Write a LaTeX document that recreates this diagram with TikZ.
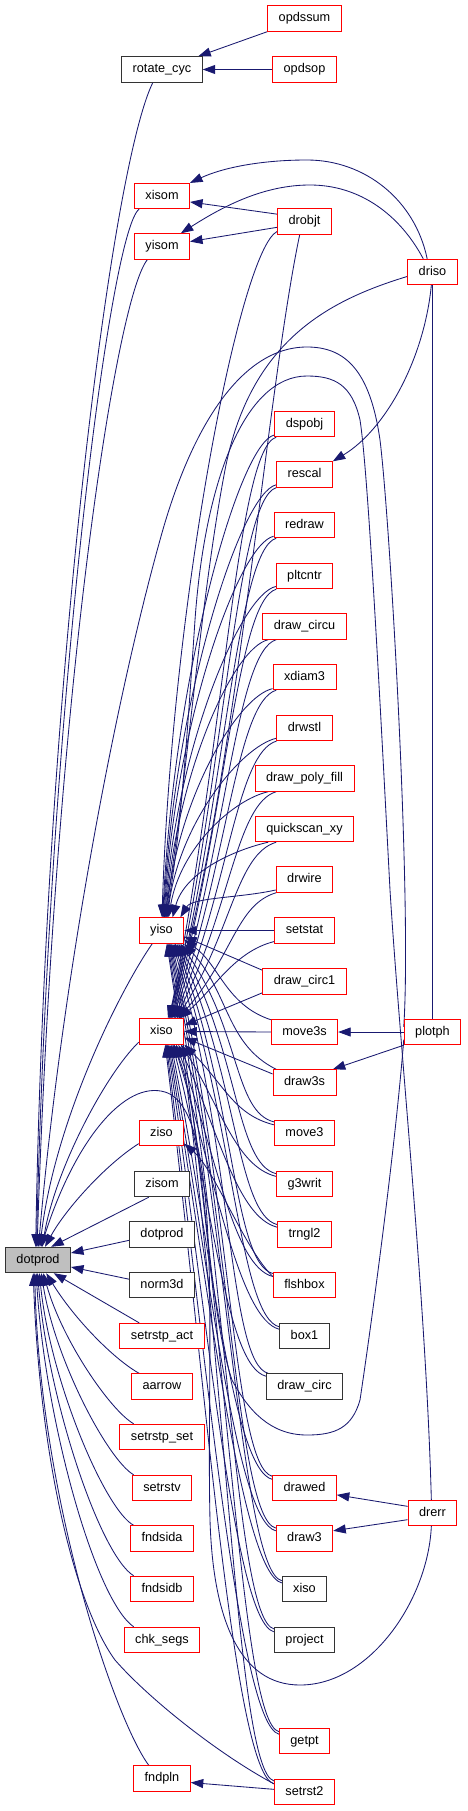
\documentclass[tikz,border=0pt]{standalone}
\usepackage{fontspec}
\setmainfont{Liberation Sans}
\usetikzlibrary{arrows.meta}
\definecolor{edgec}{HTML}{191970}
\definecolor{nodered}{HTML}{FF0000}
\definecolor{mainfill}{HTML}{BFBFBF}
\pgfdeclarelayer{bg}
\pgfsetlayers{bg,main}
\begin{document}
\begin{tikzpicture}[x=1pt,y=-1pt,
  box/.style={line width=0.9pt, fill=white, minimum height=25.5pt, inner xsep=11pt, inner ysep=0pt, font=\fontsize{12.7}{15}\selectfont, text height=9.3pt, text depth=2.7pt},
  rbox/.style={box, draw=nodered},
  kbox/.style={box, draw=black!80},
  mbox/.style={box, draw=black!80, fill=mainfill},
  e/.style={draw=edgec, line width=0.85pt, -{Triangle[length=12.5pt,width=9pt]}},
  ln/.style={draw=edgec, line width=0.85pt}]
\useasboundingbox (0,0) rectangle (467,1811);
% column A
\node[mbox] (dotprod0) at (38,1260) {dotprod};
% column B
\node[kbox] (rotcyc) at (162,69.5) {rotate\_cyc};
\node[rbox] (xisom) at (162,196) {xisom};
\node[rbox] (yisom) at (162,246.5) {yisom};
\node[rbox] (yiso) at (161.5,930.5) {yiso};
\node[rbox] (xiso) at (161.5,1031.5) {xiso};
\node[rbox] (ziso) at (161.5,1133) {ziso};
\node[kbox] (zisom) at (162,1184) {zisom};
\node[kbox] (dotprodb) at (162,1234.5) {dotprod};
\node[kbox] (norm3d) at (162,1285) {norm3d};
\node[rbox] (setrstpact) at (162,1336) {setrstp\_act};
\node[rbox] (aarrow) at (162,1386.5) {aarrow};
\node[rbox] (setrstpset) at (162,1437) {setrstp\_set};
\node[rbox] (setrstv) at (162,1488) {setrstv};
\node[rbox] (fndsida) at (162,1538.5) {fndsida};
\node[rbox] (fndsidb) at (162,1589) {fndsidb};
\node[rbox] (chksegs) at (162,1640) {chk\_segs};
\node[rbox] (fndpln) at (162,1778.5) {fndpln};
% column C
\node[rbox] (opdssum) at (304.5,18.5) {opdssum};
\node[rbox] (opdsop) at (304.5,69.5) {opdsop};
\node[rbox] (drobjt) at (304.5,221.5) {drobjt};
\node[rbox] (dspobj) at (304.5,424) {dspobj};
\node[rbox] (rescal) at (304.5,474.5) {rescal};
\node[rbox] (redraw) at (304.5,525) {redraw};
\node[rbox] (pltcntr) at (304.5,576) {pltcntr};
\node[rbox] (drawcircu) at (304.5,626.5) {draw\_circu};
\node[rbox] (xdiam3) at (304.5,677) {xdiam3};
\node[rbox] (drwstl) at (304.5,728) {drwstl};
\node[rbox] (drawpolyfill) at (304.5,778.5) {draw\_poly\_fill};
\node[rbox] (quickscan) at (304.5,829) {quickscan\_xy};
\node[rbox] (drwire) at (304.5,879.5) {drwire};
\node[rbox] (setstat) at (304.5,930.5) {setstat};
\node[rbox] (drawcirc1) at (304.5,981.5) {draw\_circ1};
\node[rbox] (move3s) at (304.5,1032) {move3s};
\node[rbox] (draw3s) at (304.5,1082.5) {draw3s};
\node[rbox] (move3) at (304.5,1133) {move3};
\node[rbox] (g3writ) at (304.5,1184) {g3writ};
\node[rbox] (trngl2) at (304.5,1234.5) {trngl2};
\node[rbox] (flshbox) at (304.5,1285) {flshbox};
\node[kbox] (box1) at (304.5,1336) {box1};
\node[kbox] (drawcirc) at (304.5,1386.5) {draw\_circ};
\node[rbox] (drawed) at (304.5,1488) {drawed};
\node[rbox] (draw3) at (304.5,1538.5) {draw3};
\node[kbox] (xisoR) at (304.5,1589) {xiso};
\node[kbox] (project) at (304.5,1640) {project};
\node[rbox] (getpt) at (304.5,1741) {getpt};
\node[rbox] (setrst2) at (304.5,1792) {setrst2};
% column D
\node[rbox] (driso) at (432.5,272) {driso};
\node[rbox] (plotph) at (432.5,1032) {plotph};
\node[rbox] (drerr) at (432.5,1513) {drerr};

\begin{pgfonlayer}{bg}
\fill[white] (0,0) rectangle (467,1811);
% short edges
\draw[e] (opdssum.south west) -- (rotcyc.20);
\draw[e] (opdsop.west) -- (rotcyc.east);
\draw[e] (drobjt.165) -- (xisom.-12);
\draw[e] (drobjt.192) -- (yisom.10);
\draw[e] (driso.112) .. controls (415,200) and (365,160) .. (307,160) .. controls (260,160) and (222,168) .. (xisom.25);
\draw[e] (driso.125) .. controls (400,215) and (360,185) .. (310,185) .. controls (265,185) and (225,205) .. (yisom.35);
\draw[e] (driso.265) .. controls (424,360) and (385,430) .. (rescal.25);
\draw[ln] (driso.south) -- (plotph.north);
\draw[e] (plotph.west) -- (move3s.east);
\draw[e] (plotph.south west) -- (draw3s.25);
\draw[e] (drerr.165) -- (drawed.-12);
\draw[e] (drerr.195) -- (draw3.15);
\draw[e] (setrst2.175) -- (fndpln.-8);
\draw[e] (flshbox.165) .. controls (245,1250) and (215,1170) .. (ziso.-25);
% into main dotprod
\draw[e] (rotcyc.235) .. controls (110,170) and (45,700) .. (dotprod0.100);
\draw[e] (xisom.210) .. controls (110,230) and (50,700) .. (dotprod0.97);
\draw[e] (yisom.222) .. controls (115,300) and (55,700) .. (dotprod0.94);
\draw[e] (plotph.170) .. controls (412,900) and (390,520) .. (380,440) .. controls (370,370) and (345,347) .. (307,347) .. controls (240,347) and (190,430) .. (160,540) .. controls (110,720) and (60,1000) .. (dotprod0.88);
\draw[e] (yiso.235) .. controls (120,990) and (55,1120) .. (dotprod0.82);
\draw[e] (drerr.265) .. controls (428,1600) and (370,1685) .. (300,1685) .. controls (240,1685) and (213,1620) .. (210,1520) .. controls (206,1350) and (225,1110) .. (165,1092) .. controls (125,1080) and (75,1140) .. (dotprod0.77);
\draw[e] (xiso.205) .. controls (105,1075) and (55,1170) .. (dotprod0.72);
\draw[e] (ziso.205) .. controls (105,1165) and (65,1210) .. (dotprod0.62);
\draw[e] (zisom.225) -- (dotprod0.45);
\draw[e] (dotprodb.190) -- (dotprod0.12);
\draw[e] (norm3d.170) -- (dotprod0.-12);
\draw[e] (setrstpact.150) -- (dotprod0.-40);
\draw[e] (aarrow.150) .. controls (115,1360) and (75,1320) .. (dotprod0.-58);
\draw[e] (setrstpset.155) .. controls (110,1410) and (62,1340) .. (dotprod0.-68);
\draw[e] (setrstv.155) .. controls (108,1460) and (55,1360) .. (dotprod0.-76);
\draw[e] (fndsida.155) .. controls (105,1510) and (50,1380) .. (dotprod0.-84);
\draw[e] (fndsidb.155) .. controls (100,1555) and (48,1400) .. (dotprod0.-92);
\draw[e] (chksegs.155) .. controls (95,1600) and (45,1420) .. (dotprod0.-98);
\draw[e] (fndpln.135) .. controls (115,1720) and (40,1500) .. (dotprod0.-104);
\draw[e] (setrst2.165) .. controls (220,1755) and (150,1700) .. (115,1660) .. controls (75,1605) and (40,1460) .. (dotprod0.-110);
% long edges into yiso / xiso
\draw[e] (drobjt.200) .. controls (240,250) and (172,600) .. (yiso.88);
\draw[e] (drobjt.250) .. controls (265,400) and (235,800) .. (xiso.64);
\draw[e] (driso.190) .. controls (330,300) and (250,340) .. (225,470) .. controls (200,600) and (185,800) .. (yiso.78);
\draw[e] (drerr.95) .. controls (426,1300) and (400,1050) .. (390,890) .. controls (380,700) and (368,470) .. (360,420) .. controls (352,385) and (335,376) .. (307,376) .. controls (245,376) and (205,480) .. (195,620) .. controls (187,740) and (180,840) .. (yiso.72);
\draw[e] (plotph.195) .. controls (395,1150) and (372,1320) .. (360,1400) .. controls (352,1428) and (335,1435) .. (307,1435) .. controls (270,1435) and (248,1410) .. (232,1380) .. controls (205,1300) and (205,1120) .. (xiso.-48);
% middle
\draw[e] (setstat.west) -- (yiso.east);
\draw[e] (setstat.200) .. controls +(-40,10) and +(35,-30) .. (xiso.36);
\draw[e] (drawcirc1.165) -- (yiso.-15);
\draw[e] (drawcirc1.195) -- (xiso.15);
\draw[e] (move3s.west) -- (xiso.east);
\draw[e] (move3s.160) .. controls +(-45,-15) and +(35,25) .. (yiso.-22);
\draw[e] (draw3s.165) -- (xiso.-15);
\draw[e] (draw3s.155) .. controls +(-50,-25) and +(45,50) .. (yiso.-30);
% upper column C nodes
\foreach \n/\ay/\oy/\ax/\ox in {dspobj/85/-247/60/-268, rescal/82/-222/58/-245, redraw/79/-197/56/-222, pltcntr/76/-171/54/-199, drawcircu/73/-146/52/-177, xdiam3/70/-120/50/-154, drwstl/66/-95/47/-131, drawpolyfill/62/-70/44/-108, quickscan/50/-45/41/-86, drwire/35/-20/38/-63}{
  \draw[e] (\n.200) .. controls +(-35,8) and +(12,\oy) .. (yiso.\ay);
  \draw[e] (\n.205) .. controls +(-40,12) and +(55,\ox) .. (xiso.\ax);
}
% lower column C nodes
\foreach \n/\ay/\oy/\ax/\ox in {move3/-35/86/-30/40, g3writ/-38/108/-34/63, trngl2/-41/131/-38/86, flshbox/-44/154/-42/108, box1/-47/177/-46/131, drawcirc/-50/200/-50/154, drawed/-53/245/-54/200, draw3/-56/268/-58/223, xisoR/-59/291/-62/245, project/-62/314/-66/268, getpt/-65/359/-70/314, setrst2/-68/382/-74/337}{
  \draw[e] (\n.160) .. controls +(-40,-10) and +(60,\oy) .. (yiso.\ay);
  \draw[e] (\n.165) .. controls +(-40,-10) and +(40,\ox) .. (xiso.\ax);
}
\end{pgfonlayer}
\end{tikzpicture}
\end{document}
